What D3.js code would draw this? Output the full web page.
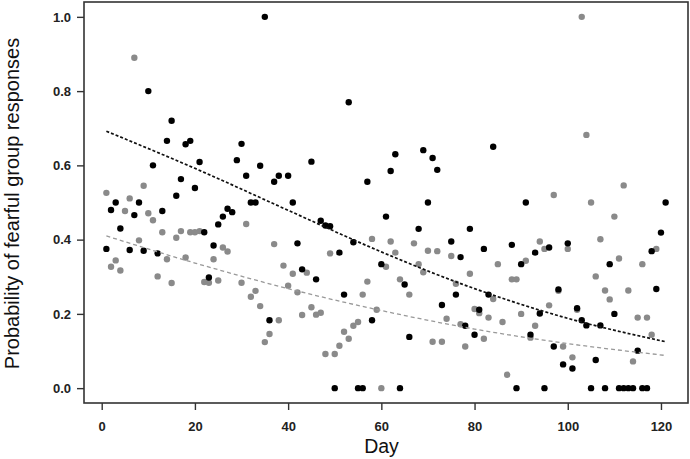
<!DOCTYPE html>
<html lang="en">
<head>
  <meta charset="UTF-8" />
  <title>Probability of fearful group responses by day</title>
  <script src="https://d3js.org/d3.v7.min.js"></script>
  <style>
    body { margin: 0; background: #fff; }
    svg { font-family: 'Liberation Sans', Arial, sans-serif; }
    .tick-label { font-size: 13px; font-weight: bold; fill: #222; }
    .axis-title { fill: #111; }
  </style>
</head>
<body>
  <svg id="chart" width="690" height="459"></svg>
  <script>
    // black points: [day, probability]
    const blackPts = [
      [1,0.375],[2,0.48],[3,0.50],[4,0.43],[6,0.372],[7,0.466],[8,0.50],[9,0.37],[10,0.80],
      [11,0.60],[12,0.363],[13,0.477],[14,0.666],[15,0.72],[16,0.518],[17,0.563],[18,0.657],
      [19,0.666],[20,0.539],[21,0.609],[22,0.42],[23,0.298],[24,0.384],[25,0.441],[26,0.462],
      [27,0.483],[28,0.474],[29,0.614],[30,0.658],[31,0.572],[32,0.50],[33,0.50],[34,0.599],
      [35,1.0],[36,0.183],[37,0.556],[38,0.572],[40,0.572],[41,0.50],[42,0.39],[43,0.32],
      [45,0.61],[46,0.293],[47,0.451],[48,0.438],[49,0.436],[50,0],[51,0.365],[52,0.252],
      [53,0.77],[54,0.393],[55,0],[56,0],[57,0.556],[58,0.183],[60,0.334],[61,0.462],[62,0.585],
      [63,0.63],[64,0],[65,0.279],[66,0.138],[68,0.429],[69,0.641],[70,0.50],[71,0.62],[72,0.588],
      [73,0.224],[75,0.395],[76,0.252],[77,0.353],[78,0.168],[79,0.429],[80,0.144],[81,0.211],
      [82,0.375],[83,0.252],[84,0.65],[88,0.386],[89,0],[90,0.334],[91,0.50],[92,0.144],[93,0.365],
      [94,0.201],[95,0],[96,0.379],[97,0.112],[98,0.266],[99,0.064],[100,0.39],[101,0.053],
      [102,0.215],[103,0.183],[104,0.169],[105,0],[106,0.076],[107,0.169],[108,0],[109,0.334],
      [110,0.2],[111,0],[112,0],[113,0],[114,0],[115,0.101],[116,0],[117,0],[118,0.369],
      [119,0.267],[120,0.419],[121,0.50]
    ];

    // grey points: [day, probability]
    const greyPts = [
      [1,0.526],[2,0.327],[3,0.344],[4,0.317],[5,0.477],[6,0.511],[7,0.89],[8,0.398],[9,0.545],
      [10,0.471],[11,0.452],[12,0.301],[13,0.42],[14,0.347],[15,0.283],[16,0.405],[17,0.423],
      [18,0.352],[19,0.42],[20,0.42],[21,0.423],[22,0.286],[23,0.284],[24,0.347],[25,0.29],
      [26,0.379],[27,0.368],[30,0.284],[31,0.442],[32,0.246],[33,0.262],[34,0.221],[35,0.124],
      [36,0.146],[37,0.388],[38,0.183],[39,0.33],[40,0.276],[41,0.308],[42,0.258],[43,0.197],
      [44,0.311],[45,0.218],[46,0.198],[47,0.203],[48,0.092],[49,0.363],[50,0.092],[51,0.114],
      [52,0.152],[53,0.133],[54,0.168],[55,0.178],[56,0.252],[57,0.287],[58,0.402],[59,0.211],
      [60,0],[61,0.327],[62,0.395],[63,0.365],[64,0.293],[66,0.252],[67,0.39],[68,0.334],
      [69,0.312],[70,0.37],[71,0.125],[72,0.369],[73,0.125],[74,0.187],[75,0.356],[76,0.281],
      [77,0.172],[78,0.112],[79,0.308],[80,0.213],[81,0.202],[82,0.133],[83,0.19],[84,0.24],
      [85,0.334],[86,0.178],[87,0.036],[88,0.293],[89,0.293],[90,0.2],[91,0.343],[92,0.136],
      [93,0.168],[94,0.395],[95,0.375],[96,0.223],[97,0.52],[98,0.262],[99,0.112],[100,0.375],
      [101,0.083],[102,0.211],[103,1.0],[104,0.682],[105,0.50],[106,0.301],[107,0.401],
      [108,0.263],[109,0.239],[110,0.462],[111,0.349],[112,0.546],[113,0.263],[114,0.072],
      [115,0.19],[116,0.334],[117,0.19],[118,0.144],[119,0.375]
    ];

    // fitted curves
    const fitDays  = [1, 20, 40, 60, 80, 100, 121];
    const blackFit = [0.692, 0.592, 0.479, 0.367, 0.268, 0.188, 0.125];
    const greyFit  = [0.410, 0.337, 0.268, 0.209, 0.159, 0.120, 0.088];

    const xTicks = [0, 20, 40, 60, 80, 100, 120];
    const yTicks = [0, 0.2, 0.4, 0.6, 0.8, 1.0];

    const svg = d3.select("#chart");
    const frame = {left: 84, right: 688, top: 2, bottom: 403};

    const x = d3.scaleLinear().domain([-3.8, 125.8]).range([frame.left, frame.right]);
    const y = d3.scaleLinear().domain([-0.04, 1.04]).range([frame.bottom, frame.top]);

    // box
    svg.append("rect")
        .attr("x", frame.left).attr("y", frame.top)
        .attr("width", frame.right - frame.left)
        .attr("height", frame.bottom - frame.top)
        .attr("fill", "none")
        .attr("stroke", "#333")
        .attr("stroke-width", 1.6);

    // axes
    const xAxis = svg.append("g")
        .attr("transform", `translate(0,${frame.bottom})`)
        .call(d3.axisBottom(x).tickValues(xTicks).tickSize(7).tickPadding(12));
    const yAxis = svg.append("g")
        .attr("transform", `translate(${frame.left},0)`)
        .call(d3.axisLeft(y).tickValues(yTicks).tickSize(7).tickPadding(6).tickFormat(d3.format(".1f")));

    [xAxis, yAxis].forEach(g => {
      g.select(".domain").remove();
      g.selectAll(".tick line").attr("stroke", "#333").attr("stroke-width", 1.4);
      g.selectAll(".tick text").attr("class", "tick-label").attr("font-family", null).attr("font-size", null);
    });

    // points
    svg.append("g")
      .selectAll("circle")
      .data(greyPts)
      .join("circle")
        .attr("cx", d => x(d[0]))
        .attr("cy", d => y(d[1]))
        .attr("r", 3.2)
        .attr("fill", "#8a8a8a");

    svg.append("g")
      .selectAll("circle")
      .data(blackPts)
      .join("circle")
        .attr("cx", d => x(d[0]))
        .attr("cy", d => y(d[1]))
        .attr("r", 3.2)
        .attr("fill", "#000");

    // fitted lines
    const line = d3.line()
        .x((d, i) => x(fitDays[i]))
        .y(d => y(d))
        .curve(d3.curveMonotoneX);

    svg.append("path")
        .attr("d", line(greyFit))
        .attr("fill", "none")
        .attr("stroke", "#999")
        .attr("stroke-width", 1.3)
        .attr("stroke-dasharray", "4,3");

    svg.append("path")
        .attr("d", line(blackFit))
        .attr("fill", "none")
        .attr("stroke", "#111")
        .attr("stroke-width", 1.7)
        .attr("stroke-dasharray", "3,2");

    // titles
    svg.append("text")
        .attr("class", "axis-title")
        .attr("x", 381.5)
        .attr("y", 453)
        .attr("text-anchor", "middle")
        .attr("font-size", 19.5)
        .text("Day");

    svg.append("text")
        .attr("class", "axis-title")
        .attr("transform", "translate(18.5,203.5) rotate(-90)")
        .attr("text-anchor", "middle")
        .attr("font-size", 20)
        .text("Probability of fearful group responses");
  </script>
</body>
</html>
